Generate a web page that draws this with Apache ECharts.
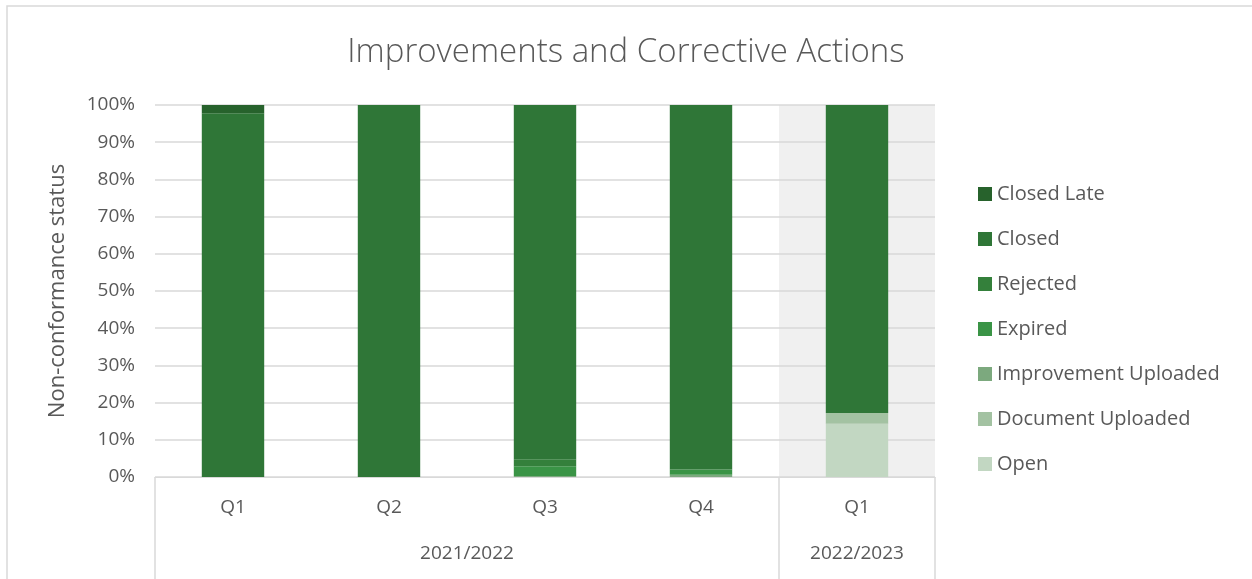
<!DOCTYPE html>
<html>
<head>
<meta charset="utf-8">
<script src="https://cdn.jsdelivr.net/npm/echarts@6/dist/echarts.min.js"></script>
<style>
  html, body { margin: 0; padding: 0; background: #fff; }
  #chart { width: 1252px; height: 579px; }
</style>
</head>
<body>
<div id="chart"></div>
<script>
// Quarters and the fiscal years they belong to
const quarterKeys = ['2021/2022 Q1', '2021/2022 Q2', '2021/2022 Q3', '2021/2022 Q4', '2022/2023 Q1'];
const quarterLabels = ['Q1', 'Q2', 'Q3', 'Q4', 'Q1'];
const yearGroups = ['2021/2022', '2022/2023'];
const yearGroupSpans = [[0, 3], [4, 4]];

// Share of non-conformances per status (%), one value per quarter
const openShare        = [0,    0,    0,    0,    14.3];
const documentUploaded = [0,    0,    0,    0,    2.9];
const improvementUp    = [0,    0,    0.3,  0.6,  0];
const expiredShare     = [0,    0,    2.6,  1.4,  0];
const rejectedShare    = [0,    0,    1.9,  0,    0];
const closedShare      = [97.8, 100,  95.2, 98.0, 82.8];
const closedLateShare  = [2.2,  0,    0,    0,    0];

const yTicks = [0, 10, 20, 30, 40, 50, 60, 70, 80, 90, 100];

const FONT = '"Open Sans", "Noto Sans", sans-serif';
const TEXT = '#595959';
const LINE = '#d9d9d9';

const statusSeries = [
  { name: 'Open',                 data: openShare,        color: '#c2d7c2' },
  { name: 'Document Uploaded',    data: documentUploaded, color: '#a3c2a2' },
  { name: 'Improvement Uploaded', data: improvementUp,    color: '#7ca97e' },
  { name: 'Expired',              data: expiredShare,     color: '#3a9446' },
  { name: 'Rejected',             data: rejectedShare,    color: '#34803b' },
  { name: 'Closed',               data: closedShare,      color: '#2f7637' },
  { name: 'Closed Late',          data: closedLateShare,  color: '#27622c' }
];

const chart = echarts.init(document.getElementById('chart'), null, { renderer: 'canvas' });

// Shaded band behind the current fiscal year
const shadeSeries = {
  name: 'shade',
  type: 'custom',
  z: -1,
  silent: true,
  data: quarterKeys.map((k, i) => [i, i >= yearGroupSpans[1][0] ? 1 : 0]),
  renderItem: function (params, api) {
    if (!api.value(1)) return null;
    const idx = api.value(0);
    const top = api.coord([idx, 100]);
    const bottom = api.coord([idx, 0]);
    const bw = api.size([1, 0])[0];
    return {
      type: 'rect',
      shape: { x: top[0] - bw / 2, y: top[1], width: bw, height: bottom[1] - top[1] },
      style: { fill: '#f0f0f0' }
    };
  }
};

const option = {
  animation: false,
  backgroundColor: '#fff',
  title: {
    text: 'Improvements and Corrective Actions',
    left: 'center',
    top: 31,
    textStyle: { fontFamily: FONT, fontWeight: 300, fontSize: 33, color: TEXT }
  },
  legend: {
    orient: 'vertical',
    left: 973,
    top: 178,
    itemWidth: 14,
    itemHeight: 14,
    itemGap: 23,
    icon: 'rect',
    data: statusSeries.map(s => s.name).reverse(),
    textStyle: { fontFamily: FONT, fontSize: 20, color: TEXT, lineHeight: 22 }
  },
  grid: { left: 155, right: 317, top: 105, bottom: 102, containLabel: false },
  xAxis: {
    type: 'category',
    data: quarterKeys,
    axisLine: { show: true, lineStyle: { color: LINE } },
    axisTick: { show: false },
    axisLabel: {
      margin: 21,
      fontFamily: FONT, fontSize: 19, color: TEXT,
      formatter: (v, i) => quarterLabels[i]
    },
    splitLine: { show: false }
  },
  yAxis: {
    type: 'value',
    min: 0, max: 100, interval: 10,
    name: 'Non-conformance status',
    nameLocation: 'middle',
    nameGap: 86,
    nameTextStyle: { fontFamily: FONT, fontSize: 22, color: TEXT },
    axisLine: { show: false },
    axisTick: { show: false },
    axisLabel: {
      margin: 20, fontFamily: FONT, fontSize: 19, color: TEXT,
      formatter: v => yTicks.includes(v) ? v + '%' : ''
    },
    splitLine: { lineStyle: { color: LINE, width: 1.5 } }
  },
  series: [shadeSeries].concat(statusSeries.map(s => ({
    name: s.name,
    type: 'bar',
    stack: 'status',
    barWidth: '40%',
    data: s.data,
    itemStyle: { color: s.color },
    emphasis: { disabled: true }
  })))
};

chart.setOption(option);

// Grouped category axis: separators between fiscal years and the year labels
function drawYearGroups() {
  const px = i => chart.convertToPixel({ xAxisIndex: 0 }, i);
  const yZero = chart.convertToPixel({ yAxisIndex: 0 }, 0);
  const half = (px(1) - px(0)) / 2;
  const bottom = 579 + 5;
  const elements = [];
  const boundaries = [px(0) - half];
  yearGroupSpans.forEach(span => boundaries.push(px(span[1]) + half));
  boundaries.forEach((x, i) => {
    elements.push({
      type: 'line',
      shape: { x1: x, y1: yZero, x2: x, y2: bottom },
      style: { stroke: LINE, lineWidth: 1.5 },
      silent: true
    });
  });
  yearGroups.forEach((name, g) => {
    const span = yearGroupSpans[g];
    const cx = (px(span[0]) + px(span[1])) / 2;
    elements.push({
      type: 'text',
      x: cx, y: yZero + 77,
      style: {
        text: name, fill: TEXT, font: '19px ' + FONT,
        align: 'center', verticalAlign: 'middle'
      },
      silent: true
    });
  });
  // outer frame of the chart
  elements.push({
    type: 'rect',
    shape: { x: 7, y: 6, width: 1260, height: 600 },
    style: { fill: 'none', stroke: LINE, lineWidth: 1.5 },
    silent: true
  });
  chart.setOption({ graphic: elements });
}
drawYearGroups();
</script>
</body>
</html>
